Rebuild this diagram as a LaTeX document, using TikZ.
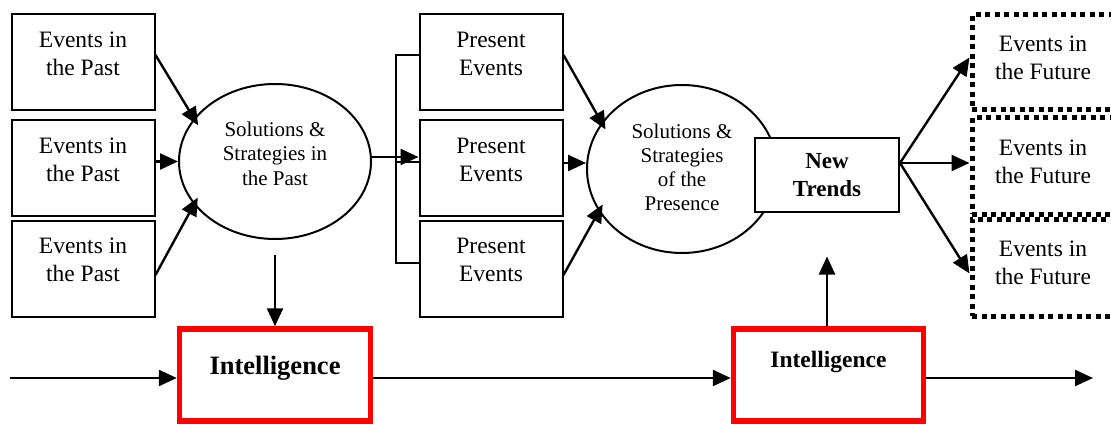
\documentclass[tikz,border=0pt]{standalone}
\usepackage{fontspec}
\setmainfont{Liberation Serif}
\usetikzlibrary{arrows.meta,shapes.geometric}
\tikzset{
  txt/.style={font=\fontsize{23.5}{28}\selectfont, align=center},
  box/.style={draw, line width=2pt, minimum width=143pt, minimum height=96pt, inner sep=0pt},
  oval/.style={draw, ellipse, line width=2pt, inner sep=0pt},
  futbox/.style={draw, line width=5pt, dash pattern=on 5pt off 4.5pt, minimum width=142pt, inner sep=0pt},
  intbox/.style={draw=red, line width=5.5pt, minimum width=191pt, minimum height=92pt, inner sep=0pt},
  arr/.style={-{Triangle[length=18pt,width=16pt]}, line width=2.4pt},
  conn/.style={line width=2pt},
  ntbox/.style={draw, fill=white, line width=2pt, minimum width=144pt, minimum height=73pt, inner sep=0pt,
    font=\bfseries\fontsize{23}{28}\selectfont, align=center}
}
\begin{document}
\begin{tikzpicture}[x=1pt,y=-1pt]
\useasboundingbox (0,0) rectangle (1111,425);
\clip (0,0) rectangle (1111,425);
% past events
\node[box, label={[txt, yshift=8pt]center:Events in\\the Past}] (b1) at (83,62) {};
\node[box, label={[txt, yshift=8pt]center:Events in\\the Past}] (b2) at (83,168) {};
\node[box, label={[txt, yshift=9pt]center:Events in\\the Past}] (b3) at (83,269) {};
% present events
\node[box, label={[txt, yshift=8pt]center:Present\\Events}] (p1) at (491,62) {};
\node[box, label={[txt, yshift=8pt]center:Present\\Events}] (p2) at (491,168) {};
\node[box, label={[txt, yshift=9pt]center:Present\\Events}] (p3) at (491,269) {};
% ellipses
\node[oval, minimum width=192pt, minimum height=155pt,
  label={[font=\fontsize{21}{24.5}\selectfont, align=center, yshift=8pt]center:Solutions \&\\Strategies in\\the Past}] (e1) at (275,161.5) {};
\node[oval, minimum width=190pt, minimum height=168pt,
  label={[font=\fontsize{21}{24}\selectfont, align=center, yshift=2pt]center:Solutions \&\\Strategies\\of the\\Presence}] (e2) at (682,169) {};
% future events
\node[futbox, minimum height=95pt, label={[txt, yshift=5pt]center:Events in\\the Future}] (f1) at (1043,62.5) {};
\node[futbox, minimum height=96pt, label={[txt, yshift=4pt]center:Events in\\the Future}] (f2) at (1043,166) {};
\node[futbox, minimum height=97pt, label={[txt, yshift=5pt]center:Events in\\the Future}] (f3) at (1043,267.5) {};
% intelligence
\node[intbox, label={[font=\bfseries\fontsize{26.5}{30}\selectfont, yshift=7pt]center:Intelligence}] (i1) at (275,375) {};
\node[intbox, minimum width=190pt, label={[font=\bfseries\fontsize{23.5}{28}\selectfont, yshift=13pt]center:Intelligence}] (i2) at (828.5,375) {};
% arrows past -> e1
\draw[arr, shorten >=-8pt] ([yshift=7pt]b1.east) -- (e1.152);
\draw[arr] (b2.east |- e1.west) -- (e1.west);
\draw[arr, shorten >=-8pt] ([yshift=-6pt]b3.east) -- (e1.208);
% e1 -> present bracket
\coordinate (s1) at ([yshift=4.5pt]e1.east);
\draw[arr] (s1) -- (s1 -| p2.west);
\draw[conn] ([yshift=7pt]p1.west) -- ++(-23,0) |- ([yshift=6pt]p3.west);
\draw[conn] ([yshift=6pt]p2.west) -- ++(-23,0);
% present -> e2
\draw[arr, shorten >=-8pt] ([yshift=7pt]p1.east) -- (e2.150);
\coordinate (s2) at ([yshift=5pt]p2.east);
\draw[arr] (s2) -- (s2 -| e2.west);
\draw[arr, shorten >=-8pt] ([yshift=-6pt]p3.east) -- (e2.207);
% new trends (on top of the ellipse)
\node[ntbox] (nt) at (827,175) {New\\Trends};
% new trends -> future
\coordinate (s3) at ([yshift=12pt]nt.east);
\draw[arr] (s3) -- ([yshift=5pt]f1.west);
\draw[arr] (s3) -- ([yshift=3pt]f2.west);
\draw[arr] (s3) -- ([yshift=-6pt]f3.west);
% vertical arrows
\coordinate (d1) at ([yshift=-15pt]e1.south);
\draw[arr] (d1) -- (d1 |- i1.north);
\coordinate (u1) at ([yshift=-44pt]nt.south);
\draw[arr] (u1 |- i2.north) -- (u1);
% timeline
\coordinate (L) at (10,378);
\coordinate (R) at (1093,378);
\draw[arr] (L) -- (L -| i1.west);
\draw[arr] (i1.east |- L) -- (i2.west |- L);
\draw[arr] (i2.east |- L) -- (R);
\end{tikzpicture}
\end{document}
